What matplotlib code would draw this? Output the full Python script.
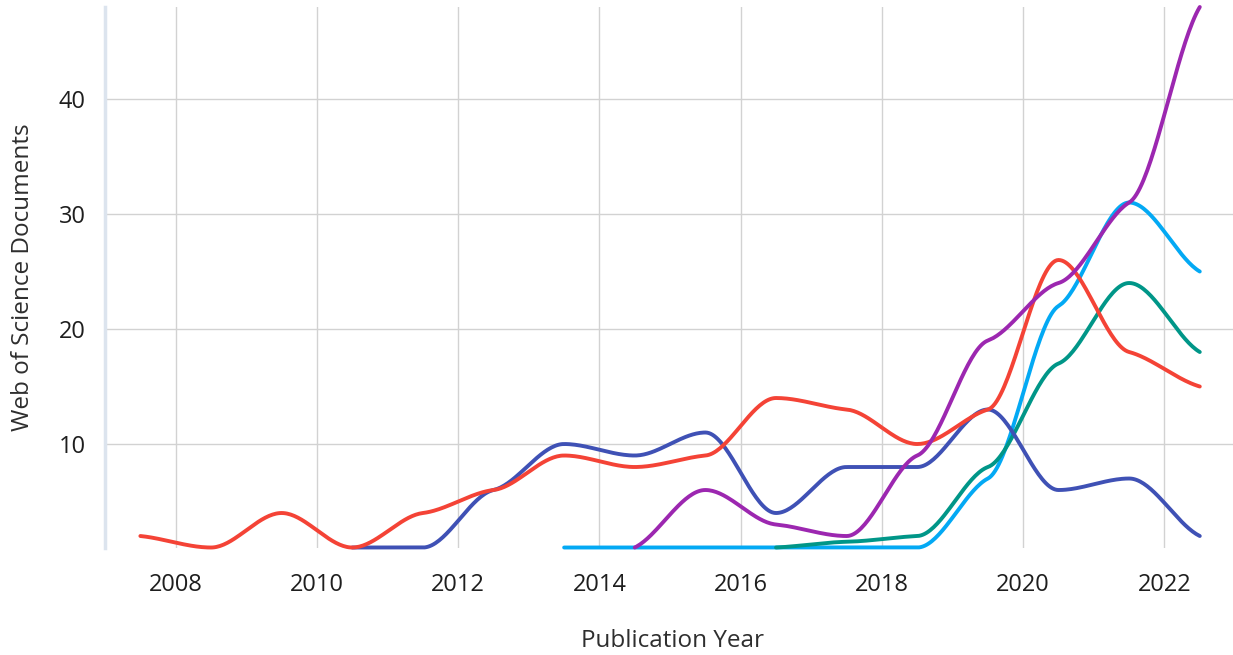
import numpy as np
import matplotlib
matplotlib.use("Agg")
import matplotlib.pyplot as plt

plt.rcParams['font.family'] = ['Open Sans', 'DejaVu Sans']

# publication years (points sit mid-year)
years_red = [2007.5, 2008.5, 2009.5, 2010.5, 2011.5, 2012.5, 2013.5, 2014.5,
             2015.5, 2016.5, 2017.5, 2018.5, 2019.5, 2020.5, 2021.5, 2022.5]
red = [2, 1, 4, 1, 4, 6, 9, 8, 9, 14, 13, 10, 13, 26, 18, 15]

years_indigo = [2010.5, 2011.5, 2012.5, 2013.5, 2014.5, 2015.5, 2016.5,
                2017.5, 2018.5, 2019.5, 2020.5, 2021.5, 2022.5]
indigo = [1, 1, 6, 10, 9, 11, 4, 8, 8, 13, 6, 7, 2]

years_purple = [2014.5, 2015.5, 2016.5, 2017.5, 2018.5, 2019.5, 2020.5,
                2021.5, 2022.5]
purple = [1, 6, 3, 2, 9, 19, 24, 31, 48]

years_teal = [2016.5, 2017.5, 2018.5, 2019.5, 2020.5, 2021.5, 2022.5]
teal = [1, 1.5, 2, 8, 17, 24, 18]

years_sky = [2013.5, 2014.5, 2015.5, 2016.5, 2017.5, 2018.5, 2019.5,
             2020.5, 2021.5, 2022.5]
sky = [1, 1, 1, 1, 1, 1, 7, 22, 31, 25]

x_ticks = [2008, 2010, 2012, 2014, 2016, 2018, 2020, 2022]
y_ticks = [10, 20, 30, 40]


def smooth(x, y, k=0.3, k_end=0.6, n=40):
    # hermite spline with damped monotone tangents (gives the little shoulders)
    x = np.asarray(x, float)
    y = np.asarray(y, float)
    h = np.diff(x)
    s = np.diff(y) / h
    t = np.zeros(len(x))
    for i in range(1, len(x) - 1):
        s0, s1 = s[i - 1], s[i]
        p = (s0 * h[i] + s1 * h[i - 1]) / (h[i - 1] + h[i])
        sg = (-1 if s0 < 0 else 1) + (-1 if s1 < 0 else 1)
        t[i] = k * sg * min(abs(s0), abs(s1), 0.5 * abs(p))
    t[0] = k_end * s[0]
    t[-1] = k_end * s[-1]
    xs, ys = [], []
    for i in range(len(x) - 1):
        u = np.linspace(0, 1, n)
        h00 = 2 * u**3 - 3 * u**2 + 1
        h10 = u**3 - 2 * u**2 + u
        h01 = -2 * u**3 + 3 * u**2
        h11 = u**3 - u**2
        xs.append(x[i] + u * h[i])
        ys.append(h00 * y[i] + h10 * h[i] * t[i] + h01 * y[i + 1] + h11 * h[i] * t[i + 1])
    return np.concatenate(xs), np.concatenate(ys)


fig = plt.figure(figsize=(12.33, 6.55), dpi=100)
ax = fig.add_axes([0.0852, 0.1641, 0.9165, 0.8252])

series = [
    (years_sky, sky, '#03a9f4'),
    (years_teal, teal, '#009688'),
    (years_indigo, indigo, '#3f51b5'),
    (years_red, red, '#f44336'),
    (years_purple, purple, '#9c27b0'),
]
for xx, yy, c in series:
    sx, sy = smooth(xx, yy)
    ax.plot(sx, sy, color=c, lw=2.8, solid_capstyle='round', clip_on=False, zorder=3)

ax.set_xlim(2007, 2023)
ax.set_ylim(1, 48)
ax.set_xticks(x_ticks)
ax.set_yticks(y_ticks)
ax.grid(True, color='#d2d2d2', lw=1)
ax.set_axisbelow(True)
for sp in ['top', 'right', 'bottom']:
    ax.spines[sp].set_visible(False)
ax.spines['left'].set_color('#dce4ee')
ax.spines['left'].set_linewidth(2.5)
ax.tick_params(length=0, labelsize=17, colors='#1e1e1e')
ax.tick_params(axis='x', pad=18)
ax.tick_params(axis='y', pad=14)

ax.set_xlabel('Publication Year', fontsize=17.5, color='#2e2e2e')
ax.set_ylabel('Web of Science Documents', fontsize=17.5, color='#2e2e2e')
ax.xaxis.set_label_coords(0.502, -0.151)
ax.yaxis.set_label_coords(-0.062, 0.5)

fig.savefig('out.png', dpi=100)
